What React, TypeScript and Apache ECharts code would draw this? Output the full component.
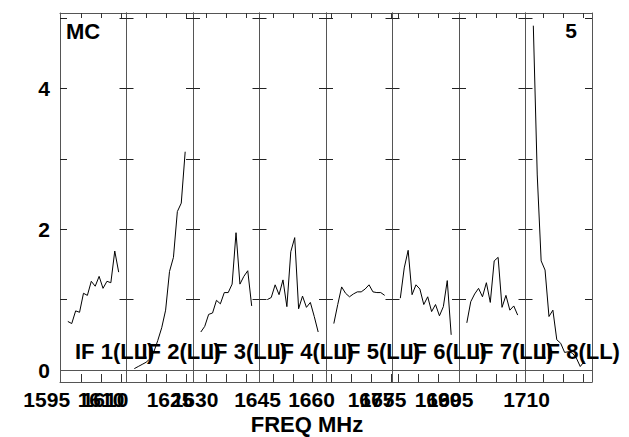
import React, { useEffect, useRef } from "react";
import * as echarts from "echarts";

// ---- data ----
const IF_NAMES = ["IF 1(LL)", "IF 2(LL)", "IF 3(LL)", "IF 4(LL)", "IF 5(LL)", "IF 6(LL)", "IF 7(LL)", "IF 8(LL)"];
const CHANNELS = [2, 3, 4, 5, 6, 7, 8, 9, 10, 11, 12, 13, 14, 15];
const if1 = [0.69, 0.66, 0.84, 0.82, 1.09, 1.06, 1.26, 1.19, 1.33, 1.16, 1.26, 1.24, 1.69, 1.39];
const if2 = [0.02, 0.05, 0.08, 0.11, 0.16, 0.26, 0.42, 0.6, 0.85, 1.4, 1.6, 2.25, 2.37, 3.1];
const if3 = [0.54, 0.62, 0.79, 0.81, 0.99, 0.94, 1.1, 1.1, 1.22, 1.95, 1.22, 1.33, 1.41, 0.91];
const if4 = [1.0, 1.03, 1.21, 1.07, 1.28, 0.9, 1.68, 1.88, 0.87, 1.05, 0.89, 0.96, 0.76, 0.54];
const if5 = [0.66, 0.93, 1.18, 1.09, 1.04, 1.08, 1.11, 1.11, 1.15, 1.21, 1.11, 1.1, 1.1, 1.06];
const if6 = [1.02, 1.45, 1.7, 1.07, 1.21, 1.15, 0.93, 1.04, 0.83, 0.93, 0.77, 0.9, 1.27, 0.5];
const if7 = [0.67, 0.97, 1.08, 1.16, 1.04, 1.24, 0.96, 1.55, 1.6, 0.89, 1.06, 0.85, 0.91, 0.78];
const if8 = [4.89, 2.77, 1.55, 1.42, 0.76, 0.85, 0.43, 0.38, 0.25, 0.26, 0.24, 0.17, 0.05, 0.12];
const IF_VALUES = [if1, if2, if3, if4, if5, if6, if7, if8];

// per-panel frequency ticks (channel-slot units within a panel)
const IF_TICKS = [
  [5.55, 10.48, 15.6],
  [5.16, 10.28, 15.39],
  [3.5, 8.6, 13.7],
  [3.53, 8.64, 13.55],
  [1.46, 6.57, 11.68, 16.74],
  [1.41, 6.52, 11.63],
  [4.52, 9.63, 14.57],
  [4.55, 9.66, 14.78],
];
// frequency tick labels and their positions (slot units across all panels)
const FREQ_LABELS = ["1595", "1610", "1610", "1625", "1630", "1645", "1660", "1675", "1675", "1690", "1695", "1710"];
const FREQ_LABEL_POS = [-3.4, 10.48, 11.5, 28.12, 34.51, 50.49, 64.29, 79.5, 82.57, 96.63, 99.7, 119.26];

const Y_TICKS = [0, 1, 2, 3, 4, 5];
const Y_LABELS = [0, 2, 4];
const Y_MIN = -0.17;
const Y_MAX = 5.07;
const SLOTS = 17;

// ---- layout ----
const W = 629;
const H = 437;
const FRAME_LEFT = 60;
const PANEL_W = 66.5;
const TOP = 13;
const BOTTOM = 55;
const FONT = '"Liberation Sans", Arial, sans-serif';
const AXIS_COLOR = "#555";

export default function App() {
  const ref = useRef<HTMLDivElement>(null);

  useEffect(() => {
    if (!ref.current) return;
    const chart = echarts.init(ref.current, undefined, { renderer: "svg" });
    const slotPx = PANEL_W / SLOTS;

    const grids: any[] = [];
    const xAxes: any[] = [];
    const yAxes: any[] = [];
    const series: any[] = [];
    const graphics: any[] = [];

    for (let i = 0; i < 8; i++) {
      grids.push({ left: FRAME_LEFT + i * PANEL_W, width: PANEL_W, top: TOP, bottom: BOTTOM, containLabel: false });
      const xCommon = {
        type: "value",
        gridIndex: i,
        min: 0,
        max: SLOTS,
        splitLine: { show: false },
        axisLabel: { show: false },
        axisLine: { show: true, onZero: false, lineStyle: { color: AXIS_COLOR, width: 1 } },
      };
      xAxes.push({
        ...xCommon,
        position: "bottom",
        axisTick: { show: true, inside: true, length: 8, customValues: IF_TICKS[i], lineStyle: { color: "#333" } },
      });
      xAxes.push({
        ...xCommon,
        position: "top",
        axisTick: { show: true, inside: true, length: 5, customValues: IF_TICKS[i], lineStyle: { color: "#333" } },
      });
      const yCommon = {
        type: "value",
        gridIndex: i,
        min: Y_MIN,
        max: Y_MAX,
        splitLine: { show: false },
        axisLine: { show: true, onZero: false, lineStyle: { color: AXIS_COLOR, width: 1 } },
        axisTick: { show: true, inside: true, length: 7, customValues: Y_TICKS, lineStyle: { color: "#222" } },
      };
      yAxes.push({
        ...yCommon,
        position: "left",
        axisLabel:
          i === 0
            ? {
                show: true,
                customValues: Y_LABELS,
                margin: 10,
                color: "#000",
                fontSize: 21,
                fontWeight: "bold",
                fontFamily: FONT,
              }
            : { show: false },
      });
      yAxes.push({ ...yCommon, position: "right", axisLabel: { show: false } });

      series.push({
        type: "line",
        xAxisIndex: 2 * i,
        yAxisIndex: 2 * i,
        showSymbol: false,
        symbol: "none",
        lineStyle: { color: "#000", width: 1 },
        data: CHANNELS.map((c, k) => [c, IF_VALUES[i][k]]),
        markLine: {
          silent: true,
          symbol: ["none", "none"],
          label: { show: false },
          lineStyle: { color: AXIS_COLOR, type: "solid", width: 1 },
          data: [{ yAxis: 0 }],
        },
      });

      graphics.push({
        type: "text",
        x: FRAME_LEFT + i * PANEL_W + 15,
        y: 340,
        z: 10 + i,
        style: {
          text: IF_NAMES[i],
          fill: "#000",
          font: `bold 22px ${FONT}`,
          textVerticalAlign: "top",
        },
      });
    }

    // frequency label axis spanning the whole page width, in slot units
    grids.push({ left: 0, width: W, top: TOP, bottom: BOTTOM, show: false });
    xAxes.push({
      type: "value",
      gridIndex: 8,
      position: "bottom",
      min: -FRAME_LEFT / slotPx,
      max: (W - FRAME_LEFT) / slotPx,
      axisLine: { show: false },
      axisTick: { show: false },
      splitLine: { show: false },
      axisLabel: {
        show: true,
        customValues: FREQ_LABEL_POS,
        margin: 7,
        color: "#000",
        fontSize: 21,
        fontWeight: "bold",
        fontFamily: FONT,
        hideOverlap: false,
        formatter: (v: number) => {
          const idx = FREQ_LABEL_POS.findIndex((p) => Math.abs(p - v) < 1e-6);
          return idx >= 0 ? FREQ_LABELS[idx] : "";
        },
      },
    });
    yAxes.push({ type: "value", gridIndex: 8, show: false, min: 0, max: 1 });

    graphics.push(
      {
        type: "text",
        x: 66,
        y: 20,
        style: { text: "MC", fill: "#000", font: `bold 22px ${FONT}`, textVerticalAlign: "top" },
      },
      {
        type: "text",
        x: 577,
        y: 20,
        style: { text: "5", fill: "#000", font: `bold 21px ${FONT}`, textAlign: "right", textVerticalAlign: "top" },
      },
      {
        type: "text",
        x: 307,
        y: 413,
        style: { text: "FREQ MHz", fill: "#000", font: `bold 22px ${FONT}`, textAlign: "center", textVerticalAlign: "top" },
      }
    );

    chart.setOption({
      animation: false,
      backgroundColor: "#fff",
      grid: grids,
      xAxis: xAxes,
      yAxis: yAxes,
      series,
      graphic: graphics,
    });

    return () => chart.dispose();
  }, []);

  return <div ref={ref} style={{ position: "fixed", left: 0, top: 0, width: W, height: H }} />;
}
